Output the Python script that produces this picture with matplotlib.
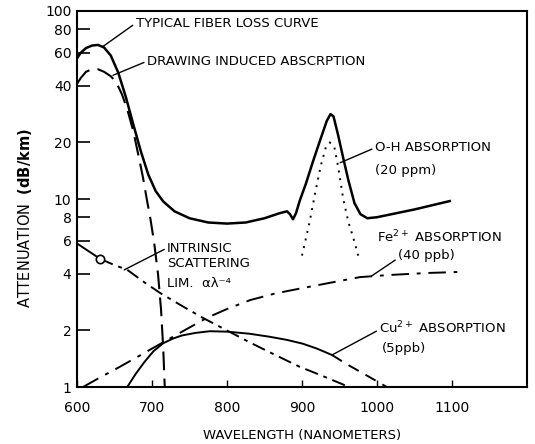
import matplotlib
matplotlib.use("Agg")
import matplotlib.pyplot as plt
from matplotlib.ticker import FixedLocator, NullLocator, FixedFormatter

# ---------------- data ----------------
wl_loss = [600, 605, 612, 620, 628, 636, 645, 655, 665, 675, 685, 695, 705, 715,
           730, 750, 775, 800, 825, 850, 870, 880, 884, 888, 892, 897, 905, 915,
           925, 933, 938, 942, 948, 955, 962, 970, 978, 987, 1000, 1050, 1097]
loss = [56, 60, 63.5, 65.5, 66, 64, 58, 47, 35, 25, 18, 13.5, 11, 9.7,
        8.6, 7.9, 7.5, 7.4, 7.5, 7.9, 8.4, 8.6, 8.3, 7.8, 8.4, 9.8, 12, 16,
        21, 26, 28.3, 27.5, 22, 16.5, 12.5, 9.5, 8.3, 7.9, 8.0, 8.8, 9.75]

wl_draw = [600, 605, 612, 620, 628, 636, 645, 652, 660, 667, 675, 682, 688, 693,
           698, 703, 708, 712, 715, 717]
draw_abs = [41, 44, 47.5, 49, 49, 47.5, 45, 42, 36, 30, 23, 17, 13, 10,
            7.8, 5.8, 4.0, 2.6, 1.6, 1.0]

wl_oh = [900, 910, 918, 925, 932, 937, 943, 948, 955, 962, 968, 975]
oh_abs = [5.0, 7.5, 11, 15, 19, 20, 19, 15, 10, 7.5, 6.3, 5.0]

wl_scat = [600, 631, 650, 667, 690, 711, 740, 768, 804, 830, 857, 897, 924, 955, 962]
scat = [5.8, 4.8, 4.45, 4.2, 3.6, 3.16, 2.7, 2.33, 1.96, 1.73, 1.53, 1.28, 1.16, 1.03, 1.0]

wl_fe = [608, 630, 657, 685, 715, 745, 773, 800, 831, 865, 901, 940, 977, 1015,
         1067, 1107]
fe_abs = [1.0, 1.12, 1.28, 1.48, 1.73, 2.02, 2.33, 2.6, 2.9, 3.15, 3.36, 3.6, 3.84,
          3.94, 4.04, 4.09]

wl_cu = [667, 678, 690, 702, 715, 728, 740, 758, 777, 800, 830, 857, 880, 901,
         920, 940, 960, 985, 1013]
cu_abs = [1.0, 1.17, 1.36, 1.55, 1.71, 1.81, 1.88, 1.94, 1.98, 1.97, 1.92, 1.85,
          1.78, 1.7, 1.6, 1.48, 1.32, 1.16, 1.0]

x_ticks = [600, 700, 800, 900, 1000, 1100]
y_ticks = [1, 2, 4, 6, 8, 10, 20, 40, 60, 80, 100]
y_ticklabels = ["1", "2", "4", "6", "8", "10", "20", "40", "60", "80", "100"]

# ---------------- figure ----------------
fig = plt.figure(figsize=(5.35, 4.44), dpi=100)
ax = fig.add_axes([77/535, 57/444, 450/535, 376/444])
ax.set_yscale("log")
ax.set_xlim(600, 1200)
ax.set_ylim(1, 100)

k = "black"
ax.plot(wl_loss, loss, color=k, lw=1.8, solid_joinstyle="round")
ax.plot(wl_draw, draw_abs, color=k, lw=1.5, dashes=(9, 4))
ax.plot(wl_oh, oh_abs, color=k, lw=1.4, ls=(0, (1, 3)))

# intrinsic scattering: short solid start, open circle, then dash-dot
ax.plot(wl_scat[:2], scat[:2], color=k, lw=1.4)
ax.plot(wl_scat[1:], scat[1:], color=k, lw=1.4, dashes=(7, 3, 2, 3))
ax.plot(wl_scat[1], scat[1], marker="o", ms=6, mfc="white", mec=k, mew=1.2, zorder=5)

ax.plot(wl_fe, fe_abs, color=k, lw=1.4, dashes=(9, 4, 2, 4))

ax.plot(wl_cu[:16], cu_abs[:16], color=k, lw=1.4)
ax.plot(wl_cu[15:], cu_abs[15:], color=k, lw=1.4, dashes=(6, 4))

# ---------------- axes styling ----------------
ax.xaxis.set_major_locator(FixedLocator(x_ticks))
ax.xaxis.set_minor_locator(NullLocator())
ax.yaxis.set_major_locator(FixedLocator(y_ticks))
ax.yaxis.set_major_formatter(FixedFormatter(y_ticklabels))
ax.yaxis.set_minor_locator(NullLocator())
ax.tick_params(axis="y", direction="in", length=9, width=1.2, labelsize=10, pad=4)
ax.tick_params(axis="x", direction="in", length=5, width=1.0, labelsize=10, pad=10)
for s in ax.spines.values():
    s.set_linewidth(1.5)

ax.set_xlabel("WAVELENGTH (NANOMETERS)", fontsize=9.5)
ax.xaxis.set_label_coords(0.5, -0.112)
ax.set_ylabel("ATTENUATION  $\\mathbf{(dB/km)}$", fontsize=10.5)
ax.yaxis.set_label_coords(-0.095, 0.45)

# ---------------- annotations ----------------
fs = 9.5
def note(text, xy, xytext, ha="left", va="center", relpos=(0, 0.5)):
    ax.annotate(text, xy=xy, xytext=xytext, fontsize=fs, ha=ha, va=va,
                arrowprops=dict(arrowstyle="-", color=k, lw=1.0,
                                shrinkA=0, shrinkB=0, relpos=relpos))

note("TYPICAL FIBER LOSS CURVE", (634, 64.5), (678, 86))
note("DRAWING INDUCED ABSCRPTION", (648, 45.5), (693, 54))
note("O-H ABSORPTION", (951, 15.6), (997, 18.7))
ax.text(997, 14.1, "(20 ppm)", fontsize=fs, ha="left", va="center")
ax.text(1000, 6.3, "Fe$^{2+}$ ABSORPTION", fontsize=fs, ha="left", va="center")
note("(40 ppb)", (993, 3.9), (1028, 5.0), relpos=(0, 0.3))
note("Cu$^{2+}$ ABSORPTION", (940, 1.48), (1003, 2.06), relpos=(0, 0.4))
ax.text(1006, 1.6, "(5ppb)", fontsize=fs, ha="left", va="center")
note("INTRINSIC\nSCATTERING", (663, 4.2), (720, 4.95), relpos=(0, 0.8))
ax.text(720, 3.55, "LIM.  αλ⁻⁴", fontsize=fs, ha="left", va="center")

fig.savefig("out.png", dpi=100)
